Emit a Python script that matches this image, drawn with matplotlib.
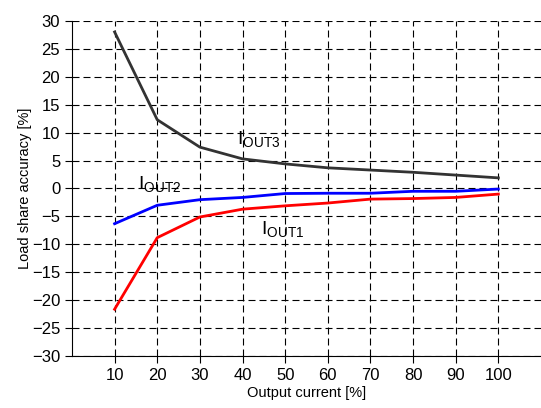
import matplotlib.pyplot as plt

plt.rcParams['font.family'] = ['Liberation Sans', 'DejaVu Sans']

current = [10, 20, 30, 40, 50, 60, 70, 80, 90, 100]
iout3 = [28.0, 12.3, 7.4, 5.3, 4.4, 3.7, 3.3, 2.9, 2.4, 1.9]
iout2 = [-6.3, -3.0, -2.0, -1.6, -0.9, -0.85, -0.85, -0.5, -0.5, -0.1]
iout1 = [-21.6, -8.8, -5.1, -3.7, -3.1, -2.6, -1.9, -1.8, -1.6, -1.0]

fig = plt.figure(figsize=(5.41, 4.08), dpi=100)
ax = fig.add_axes([0.133, 0.127, 0.867, 0.822])

ax.plot(current, iout3, color='#333333', lw=2)
ax.plot(current, iout2, color='#0000ff', lw=2)
ax.plot(current, iout1, color='#ff0000', lw=2)

ax.set_xlim(0, 110)
ax.set_ylim(-30, 30)
ax.set_xticks(current)
ax.set_yticks(range(-30, 31, 5))
ax.grid(True, color='black', linestyle=(0, (6.3, 3.6)), lw=0.8)
ax.set_axisbelow(True)
ax.spines['top'].set_visible(False)
ax.spines['right'].set_visible(False)
ax.tick_params(direction='out', length=5, labelsize=12)

ax.set_xlabel('Output current [%]', fontsize=10.5, labelpad=2)
ax.set_ylabel('Load share accuracy [%]', fontsize=10.5, labelpad=0)

ax.text(38.8, 7.8, r'I$_{\mathregular{OUT3}}$', fontsize=14)
ax.text(15.5, -0.3, r'I$_{\mathregular{OUT2}}$', fontsize=14)
ax.text(44.3, -8.2, r'I$_{\mathregular{OUT1}}$', fontsize=14)

fig.savefig('out.png', dpi=100)
